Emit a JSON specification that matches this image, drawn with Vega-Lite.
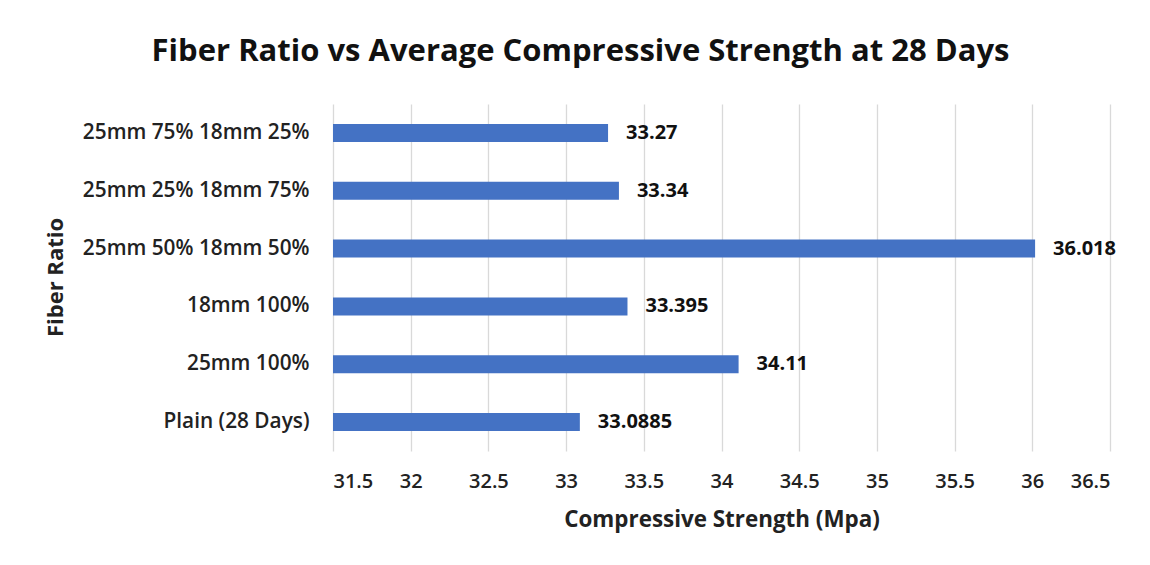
{
  "$schema": "https://vega.github.io/schema/vega-lite/v6.json",
  "width": 777,
  "height": 347,
  "autosize": "none",
  "padding": {"left": 333, "top": 104, "right": 40, "bottom": 114},
  "background": "white",
  "title": {
    "text": "Fiber Ratio vs Average Compressive Strength at 28 Days",
    "font": "Open Sans",
    "fontSize": 31,
    "fontWeight": "bold",
    "color": "#111111",
    "anchor": "middle",
    "frame": "group",
    "dx": -141,
    "offset": 36
  },
  "data": {
    "values": [
      {"ratio": "25mm 75% 18mm 25%", "strength": 33.27},
      {"ratio": "25mm 25% 18mm 75%", "strength": 33.34},
      {"ratio": "25mm 50% 18mm 50%", "strength": 36.018},
      {"ratio": "18mm 100%", "strength": 33.395},
      {"ratio": "25mm 100%", "strength": 34.11},
      {"ratio": "Plain (28 Days)", "strength": 33.0885}
    ]
  },
  "encoding": {
    "y": {
      "field": "ratio",
      "type": "nominal",
      "sort": ["25mm 75% 18mm 25%", "25mm 25% 18mm 75%", "25mm 50% 18mm 50%", "18mm 100%", "25mm 100%", "Plain (28 Days)"],
      "title": "Fiber Ratio",
      "axis": {
        "domain": false,
        "ticks": false,
        "labelLimit": 400,
        "labelFont": "Open Sans",
        "labelFontSize": 20.8,
        "labelFontWeight": 600,
        "labelColor": "#222222",
        "labelPadding": 24,
        "titleFont": "Open Sans",
        "titleFontSize": 22,
        "titleFontWeight": "bold",
        "titleColor": "#222222",
        "titleX": -278,
        "titleY": 173,
        "titleAngle": -90,
        "titleAlign": "center",
        "titleBaseline": "middle"
      }
    },
    "x": {
      "field": "strength",
      "type": "quantitative",
      "scale": {"domain": [31.5, 36.5], "zero": false, "nice": false},
      "title": "Compressive Strength (Mpa)",
      "axis": {
        "values": [31.5, 32, 32.5, 33, 33.5, 34, 34.5, 35, 35.5, 36, 36.5],
        "format": "~g",
        "domain": false,
        "ticks": false,
        "grid": true,
        "gridColor": "#d9d9d9",
        "gridWidth": 1.3,
        "labelFont": "Open Sans",
        "labelFontSize": 20,
        "labelFontWeight": 600,
        "labelColor": "#222222",
        "labelPadding": 20,
        "titleFont": "Open Sans",
        "titleFontSize": 22.4,
        "titleFontWeight": "bold",
        "titleColor": "#222222",
        "titlePadding": 17
      }
    }
  },
  "layer": [
    {
      "mark": {"type": "bar", "color": "#4472C4", "size": 18},
      "encoding": {"x2": {"datum": 31.5}}
    },
    {
      "mark": {"type": "text", "align": "left", "baseline": "middle", "dx": 18, "font": "Open Sans", "fontSize": 20, "fontWeight": "bold", "color": "#111111"},
      "encoding": {"text": {"field": "strength", "type": "quantitative", "format": ".6~g"}}
    }
  ],
  "config": {"view": {"stroke": null}}
}
